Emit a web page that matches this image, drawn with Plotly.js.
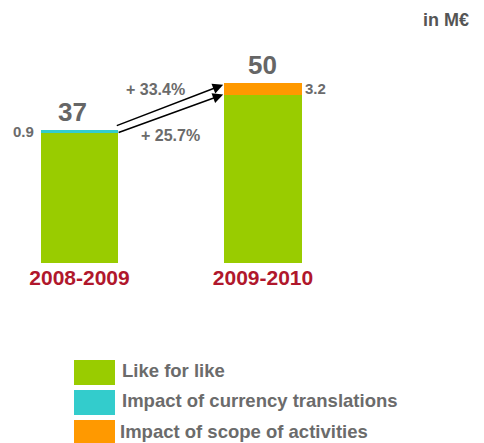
<!DOCTYPE html>
<html>
<head>
<meta charset="utf-8">
<script src="https://cdn.plot.ly/plotly-3.0.1.min.js"></script>
<style>html,body{margin:0;padding:0;background:#fff;}#chart{width:484px;height:443px;}</style>
</head>
<body>
<div id="chart"></div>
<script>
// ---- data ----
const categories = ["2008-2009", "2009-2010"];
const seriesNames = ["Like for like", "Impact of currency translations", "Impact of scope of activities"];
const likeForLike = [36.1, 46.8];
const currencyImpact = [0.9, 0];
const scopeImpact = [0, 3.2];
const totals = [37, 50];
const growthLabels = ["+ 33.4%", "+ 25.7%"];
const unitLabel = "in M€";

// ---- style ----
const colors = ["#99cc00", "#33cccc", "#ff9900"];
const gray = "#6b6b6b";
const font = "Liberation Sans, Arial, sans-serif";
const W = 484, H = 443, plotH = 263;
const xs = [0, 1];
const barW = 0.422;

const traces = [likeForLike, currencyImpact, scopeImpact].map((vals, i) => ({
  type: "bar", x: xs, y: vals, name: seriesNames[i], width: barW,
  marker: {color: colors[i], line: {width: 0}}, hoverinfo: "skip", showlegend: false
}));

const ann = [];
// totals
totals.forEach((t, i) => ann.push({x: xs[i], y: t, xref: "x", yref: "y", text: "<b>" + t + "</b>",
  showarrow: false, yanchor: "bottom", yshift: 1, xshift: i === 0 ? -7 : -1,
  font: {family: font, size: 26, color: "#666666"}}));
// segment value labels
ann.push({x: xs[0] - barW / 2, y: likeForLike[0] + currencyImpact[0] / 2, xref: "x", yref: "y",
  text: "<b>" + currencyImpact[0] + "</b>", showarrow: false, xanchor: "right", xshift: -5,
  font: {family: font, size: 15, color: gray}});
ann.push({x: xs[1] + barW / 2, y: likeForLike[1] + scopeImpact[1] / 2, xref: "x", yref: "y",
  text: "<b>" + scopeImpact[1] + "</b>", showarrow: false, xanchor: "left", xshift: 1,
  font: {family: font, size: 15, color: gray}});
// arrows
const arrowFrom = [totals[0], likeForLike[0]];
const arrowTo = [totals[1] - 0.5, likeForLike[1]];
for (let k = 0; k < 2; k++) {
  ann.push({x: xs[1] - 0.217, y: arrowTo[k], ax: xs[0] + 0.195 + 0.01 * k, ay: arrowFrom[k] + (k === 0 ? 1 : 0),
    xref: "x", yref: "y", axref: "x", ayref: "y", text: "", showarrow: true,
    arrowhead: 2, arrowsize: 1.4, arrowwidth: 1.5, arrowcolor: "#000"});
}
// growth labels
ann.push({x: 0.414, y: 48.1, xref: "x", yref: "y", text: "<b>" + growthLabels[0] + "</b>", showarrow: false,
  font: {family: font, size: 16, color: gray}});
ann.push({x: 0.496, y: 35.4, xref: "x", yref: "y", text: "<b>" + growthLabels[1] + "</b>", showarrow: false,
  font: {family: font, size: 16, color: gray}});
// unit label
ann.push({x: 471 / W, y: (plotH - 20) / plotH, xref: "paper", yref: "paper", xanchor: "right", yanchor: "middle",
  text: "<b>" + unitLabel + "</b>", showarrow: false, font: {family: font, size: 18, color: "#555555"}});

// custom legend
const shapes = [];
const swTop = [360, 390, 420];
seriesNames.forEach((n, i) => {
  shapes.push({type: "rect", xref: "paper", yref: "paper", x0: 74 / W, x1: 115 / W,
    y0: (plotH - swTop[i]) / plotH, y1: (plotH - swTop[i] - 25) / plotH,
    fillcolor: colors[i], line: {width: 0}});
  ann.push({x: (i === 2 ? 118 : 120) / W, y: (plotH - (swTop[i] + 10 - (i === 2 ? -1 : 0))) / plotH,
    xref: "paper", yref: "paper", xanchor: "left", yanchor: "middle", showarrow: false,
    text: "<b>" + n + "</b>", font: {family: font, size: 18.5, color: gray}});
});

const layout = {
  width: W, height: H, margin: {l: 0, r: 0, t: 0, b: H - plotH, pad: 0},
  paper_bgcolor: "#fff", plot_bgcolor: "#fff", barmode: "stack", showlegend: false,
  xaxis: {range: [-79.5 / 183.5, 1 + (W - 263) / 183.5], tickvals: xs,
    ticktext: categories.map(c => "<b>" + c + "</b>"), showgrid: false, zeroline: false, showline: false,
    ticks: "", tickfont: {family: font, size: 21, color: "#b0172c"}, fixedrange: true},
  yaxis: {range: [0, plotH / 3.6], visible: false, fixedrange: true},
  annotations: ann, shapes: shapes
};
Plotly.newPlot("chart", traces, layout, {displayModeBar: false, staticPlot: true});
</script>
</body>
</html>
